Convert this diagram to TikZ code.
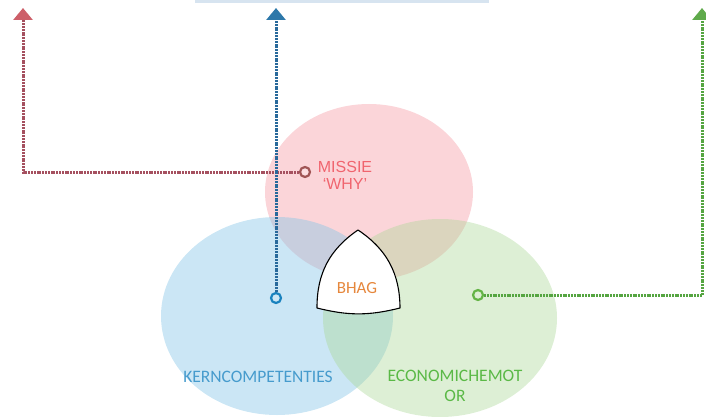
\documentclass[tikz,border=0pt]{standalone}
\usepackage{fontspec}
\setmainfont{Carlito}
\newfontfamily\arialfont{Liberation Sans}
\usetikzlibrary{arrows.meta}
\definecolor{missiefill}{RGB}{245,150,160}
\definecolor{kernfill}{RGB}{130,195,230}
\definecolor{motorfill}{RGB}{170,215,150}
\definecolor{missietext}{RGB}{240,100,110}
\definecolor{kerntext}{RGB}{70,155,205}
\definecolor{motortext}{RGB}{90,185,70}
\definecolor{bhagtext}{RGB}{230,135,60}
\definecolor{missieline}{RGB}{165,80,95}
\definecolor{kernline}{RGB}{40,105,155}
\definecolor{motorline}{RGB}{85,165,65}
\definecolor{missiearrow}{RGB}{205,95,105}
\definecolor{kernarrow}{RGB}{45,120,170}
\definecolor{motorarrow}{RGB}{95,170,75}
\definecolor{topbar}{RGB}{215,228,240}
\tikzset{
  link/.style={line width=3pt, dash pattern=on 2pt off 0.8pt, -{Triangle[length=12pt,width=19pt,color=#1]}},
  ring/.style={circle, draw, line width=2.2pt, inner sep=0pt, minimum size=10pt}
}
\begin{document}
\begin{tikzpicture}[x=1pt,y=-1pt]

\useasboundingbox (0,0) rectangle (706,417);
\fill [topbar] (195,0) rectangle (489,3);

\fill [missiefill, fill opacity=0.4] (369,192) ellipse [x radius=104pt, y radius=88pt];
\fill [kernfill, fill opacity=0.42] (277,316) ellipse [x radius=116pt, y radius=99pt];
\fill [motorfill, fill opacity=0.4] (440,318) ellipse [x radius=117pt, y radius=99pt];

\coordinate (ta) at (358,230);
\coordinate (tb) at (317,308);
\coordinate (tc) at (400,308);
\draw [fill=white, line width=1.1pt, line join=round] (ta) to[bend right=28] (tb)
  to[bend right=14] (tc) to[bend right=28] (ta) -- cycle;
\node [text=bhagtext, font=\fontsize{17}{19}\selectfont] (bhag) at (357,288) {BHAG};

\node [text=missietext, font=\arialfont\fontsize{16}{17}\selectfont, align=center] (missie) at (345,175) {MISSIE\\‘WHY’};
\node [text=kerntext, font=\fontsize{17.5}{20}\selectfont] (kern) at (258,377) {KERNCOMPETENTIES};
\node [text=motortext, font=\fontsize{17.5}{20}\selectfont, align=center] (motor) at (455,386) {ECONOMICHEMOT\\OR};

\node [ring, draw={rgb,255:red,160;green,85;blue,85}, fill=missiefill!30] (rm) at (305,172) {};
\node [ring, draw={rgb,255:red,25;green,130;blue,190}, fill=kernfill!40] (bm) at (276,298) {};
\node [ring, draw={rgb,255:red,100;green,180;blue,70}, fill=motorfill!40] (gm) at (478,295) {};

\coordinate (rc) at (23,172);
\coordinate (rt) at (23,8);
\coordinate (bt) at (276,8);
\coordinate (gc) at (702,295);
\coordinate (gt) at (702,8);

\draw [link=missiearrow, missieline] (rm) -- (rc) -- (rt);
\draw [link=kernarrow, kernline] (bm) -- (bt);
\draw [link=motorarrow, motorline] (gm) -- (gc) -- (gt);

\end{tikzpicture}
\end{document}
